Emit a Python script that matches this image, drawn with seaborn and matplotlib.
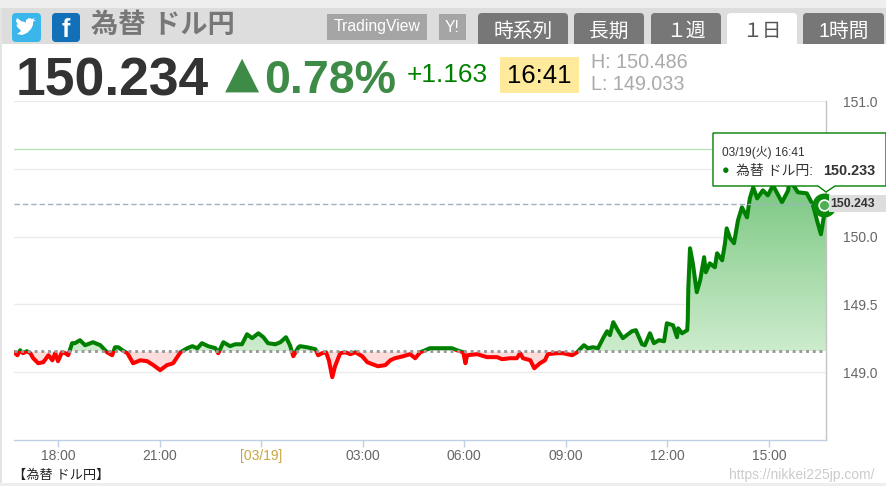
import numpy as np
import matplotlib
matplotlib.use("Agg")
import matplotlib.pyplot as plt
import seaborn as sns
from matplotlib.colors import LinearSegmentedColormap
from matplotlib.patches import Rectangle, FancyBboxPatch, Polygon

# minutes from 03/19 00:00, prices
minutes = [-438,-432,-427,-422,-415,-409,-404,-395,-386,-377,-370,-365,-360,-353,-347,-342,-335,-330,-321,-312,
           -298,-285,-273,-264,-259,-253,-246,-237,-227,-214,-202,-191,-179,-167,-156,-143,-131,-122,-113,-105,
           -94,-81,-76,-67,-55,-46,-34,-25,-16,-5,4,12,25,34,44,51,57,66,69,81,
           96,101,108,115,120,126,131,140,149,158,167,179,188,197,207,220,229,237,252,264,
           273,282,287,299,317,338,347,358,362,365,383,400,418,427,441,453,459,464,477,484,
           494,503,508,524,535,551,560,565,572,579,588,597,606,613,618,624,632,641,657,664,
           675,680,689,696,705,714,719,730,737,739,746,755,756,757,760,765,772,778,785,788,
           795,804,808,817,822,825,831,838,845,852,861,866,872,879,889,898,907,923,934,937,
           941,951,967,978,985,992,997,1001]
prices = [149.147,149.125,149.162,149.140,149.155,149.140,149.103,149.066,149.074,149.125,149.088,149.140,149.081,149.147,149.140,149.125,149.214,149.214,149.236,149.199,
          149.221,149.199,149.147,149.125,149.184,149.184,149.162,149.140,149.066,149.088,149.081,149.052,149.015,149.052,149.066,149.147,149.177,149.192,149.177,149.214,
          149.192,149.177,149.140,149.221,149.192,149.206,149.206,149.280,149.251,149.287,149.258,149.214,149.206,149.221,149.258,149.199,149.118,149.184,149.192,149.184,
          149.170,149.125,149.140,149.147,149.088,148.963,149.044,149.140,149.147,149.133,149.147,149.118,149.074,149.059,149.044,149.052,149.088,149.103,149.118,149.133,
          149.103,149.147,149.155,149.177,149.177,149.177,149.162,149.147,149.066,149.125,149.133,149.111,149.111,149.096,149.103,149.103,149.140,149.103,149.088,149.029,
          149.066,149.088,149.133,149.140,149.140,149.125,149.147,149.170,149.199,149.177,149.184,149.177,149.251,149.302,149.273,149.369,149.310,149.251,149.302,149.310,
          149.206,149.199,149.287,149.214,149.236,149.228,149.361,149.346,149.258,149.324,149.287,149.310,149.383,149.619,149.914,149.803,149.590,149.678,149.848,149.737,
          149.803,149.774,149.877,149.825,149.951,150.061,149.988,149.951,150.120,150.216,150.142,150.282,150.363,150.282,150.341,150.304,150.378,150.253,150.341,150.481,
          150.393,150.327,150.319,150.231,150.120,150.017,150.142,150.216]
base_price = 149.155
high_line = 150.646
last_price = 150.243
y_ticks = [149.0, 149.5, 150.0, 150.5, 151.0]
y_labels = ["149.0", "149.5", "150.0", "", "151.0"]  # 150.5 sits behind the tooltip
x_ticks = [-360, -180, 0, 180, 360, 540, 720, 900]
x_labels = ["18:00", "21:00", "[03/19]", "03:00", "06:00", "09:00", "12:00", "15:00"]
tabs = ["時系列", "長期", "１週", "１日", "1時間"]

sns.set_theme(style="white")
plt.rcParams['font.family'] = ['Liberation Sans', 'Noto Sans CJK JP', 'DejaVu Sans']

W, H = 887, 486
fig = plt.figure(figsize=(W / 100, H / 100), dpi=100, facecolor="white")
ax = fig.add_axes([14 / W, 1 - 440 / H, 812 / W, 339 / H])
ax.set_facecolor("none")
x = np.array(minutes)
y = np.array(prices)

# fills under / over the base price
ax.fill_between(x, base_price, np.minimum(y, base_price), color="#fddcdc", lw=0, zorder=1)
above = ax.fill_between(x, base_price, np.maximum(y, base_price), color="none", lw=0)
cmap = LinearSegmentedColormap.from_list("g", ["#75c57c", "#cdeccd"])
img = ax.imshow(np.linspace(0, 1, 256).reshape(-1, 1), cmap=cmap, aspect="auto", zorder=1,
                extent=(x[0], x[-1], base_price, max(prices)), origin="upper")
img.set_clip_path(above.get_paths()[0], transform=ax.transData)

ax.set_xlim(x[0], x[-1])
ax.set_ylim(148.5, 151.0)

# same line twice, each one clipped to its side of the base price
sns.lineplot(x=x, y=y, color="#008000", lw=2.9, estimator=None, sort=False, ax=ax, zorder=3)
ax.lines[-1].set_clip_path(Rectangle((x[0], base_price), x[-1] - x[0], 3, transform=ax.transData))
sns.lineplot(x=x, y=y, color="#ff0000", lw=2.9, estimator=None, sort=False, ax=ax, zorder=3)
ax.lines[-1].set_clip_path(Rectangle((x[0], 148), x[-1] - x[0], base_price - 148, transform=ax.transData))

ax.axhline(base_price, color="#999999", lw=2.1, ls=(0, (1.0, 1.3)), zorder=4)
ax.axhline(high_line, color="#b9e2b9", lw=1, zorder=2)
ax.axhline(last_price, color="#9db2c6", lw=1, ls=(0, (4, 2)), zorder=5)

ax.set_yticks(y_ticks)
ax.set_yticklabels(y_labels)
ax.set_xticks(x_ticks)
ax.set_xticklabels(x_labels)
ax.xaxis.grid(False)
ax.yaxis.grid(True, color="#ebebeb", lw=1)
ax.set_axisbelow(True)
ax.yaxis.tick_right()
ax.tick_params(axis="y", length=0, pad=12, labelsize=10, labelcolor="#666666")
ax.tick_params(axis="x", length=5, width=1, color="#c0d0e4", pad=1.5, labelsize=10, labelcolor="#666666", bottom=True)
ax.get_xticklabels()[2].set_color("#c8a642")
for s in ["top", "left"]:
    ax.spines[s].set_visible(False)
ax.spines["bottom"].set_color("#c0d0e4")
ax.spines["right"].set_color("#c4c4c4")
ax.spines["bottom"].set_linewidth(1)
ax.spines["right"].set_linewidth(1)

# page around the chart, in pixels
ov = fig.add_axes([0, 0, 1, 1], zorder=10)
ov.set_xlim(0, W)
ov.set_ylim(H, 0)
ov.axis("off")


def box(x0, y0, x1, y1, color, r=0, **kw):
    if r:
        p = FancyBboxPatch((x0, y0), x1 - x0, y1 - y0, boxstyle="round,pad=0,rounding_size=%g" % r,
                           fc=color, ec="none", **kw)
    else:
        p = Rectangle((x0, y0), x1 - x0, y1 - y0, fc=color, ec="none", **kw)
    ov.add_patch(p)
    return p


box(0, 0, W, 8, "#eeeeee")
box(0, 8, W, 44, "#dddddd")
box(0, 8, 2, H, "#e4e4e4")
box(0, 483, W, H, "#eeeeee")

box(12, 13, 41, 42, "#3bb6ea", r=4)
ov.add_patch(Polygon([(17, 34), (22, 35), (27, 33), (31, 29), (33, 25), (33, 22), (36, 20), (33, 20.5), (35, 18),
                      (32, 19), (29, 18), (26, 20), (26, 22.5), (21, 21), (17, 18), (16, 21), (18, 25), (16, 24.5),
                      (18, 28), (19.5, 29), (21, 31)], fc="white", ec="none"))
box(52, 13, 80, 42, "#1170b8", r=4)
ov.text(66, 30, "f", color="white", fontsize=18, fontweight="bold", ha="center", va="center")
ov.text(91, 26, "為替 ドル円", color="#777777", fontsize=19.6, fontweight="bold", va="center")

box(327, 14, 427, 40, "#a5a5a5")
ov.text(377, 27, "TradingView", color="white", fontsize=11.3, ha="center", va="center")
box(439, 14, 466, 40, "#a5a5a5")
ov.text(452.5, 27, "Y!", color="white", fontsize=11.3, ha="center", va="center")

tab_edges = [(478, 568), (574, 644), (651, 721), (727, 797), (803, 884)]
for name, (x0, x1) in zip(tabs, tab_edges):
    active = name == "１日"
    p = box(x0, 13, x1, 60, "white" if active else "#777777", r=4)
    p.set_clip_path(Rectangle((0, 0), W, 44, transform=ov.transData))
    ov.text((x0 + x1) / 2, 31, name, color="#555555" if active else "white", fontsize=14.2, ha="center", va="center")

ov.text(16, 95, "150.234", color="#333333", fontsize=38.5, fontweight="bold", va="baseline")
ov.text(242, 87, "▲", color="#3e8a47", fontsize=32, ha="center", va="baseline", family="DejaVu Sans")
ov.text(264, 93, "0.78%", color="#3e8a47", fontsize=33.5, fontweight="bold", va="baseline")
ov.text(407, 75, "+1.163", color="#008000", fontsize=19, va="center")
box(500, 57, 579, 93, "#ffe99a")
ov.text(539.5, 76, "16:41", color="black", fontsize=18.5, ha="center", va="center")
ov.text(591, 62, "H: 150.486", color="#aaaaaa", fontsize=14.2, va="center")
ov.text(591, 85, "L: 149.033", color="#aaaaaa", fontsize=14.2, va="center")

ov.text(13, 476, "【為替 ドル円】", color="#222222", fontsize=9.5, va="center")
ov.text(875, 475, "https://nikkei225jp.com/", color="#cccccc", fontsize=10, ha="right", va="center")

# end marker, last price label, tooltip
ov.scatter([824], [205], s=300, color="#0a8a0a", lw=0, zorder=3)
ov.scatter([824], [205], s=60, color="#4faf55", edgecolor="white", lw=1.2, zorder=4)
box(829, 195, W, 212, "#dddddd", zorder=5)
ov.text(830, 203.5, "150.243", color="#333333", fontsize=8.8, fontweight="bold", va="center", zorder=6)

ov.add_patch(Polygon([(713, 133), (886, 133), (886, 186), (835, 186), (826, 192), (818, 186), (713, 186)],
                     fc="white", ec="#008000", lw=1, zorder=7))
ov.text(722, 152, "03/19(火) 16:41", color="#333333", fontsize=8.6, va="center", zorder=8)
ov.text(722, 171, "●", color="#008000", fontsize=9, va="center", zorder=8)
ov.text(736, 171, "為替 ドル円:", color="#333333", fontsize=10, va="center", zorder=8)
ov.text(823, 171, "150.233", color="#333333", fontsize=10.4, fontweight="bold", va="center", zorder=8)

fig.savefig("out.png", dpi=100)
